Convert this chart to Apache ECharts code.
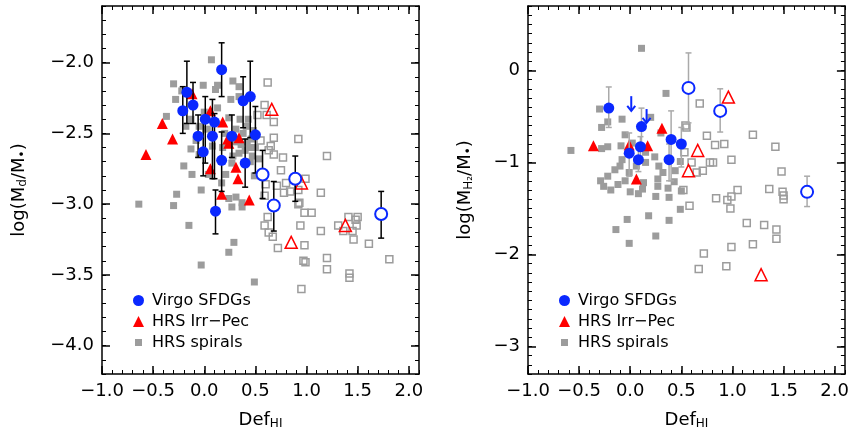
<!DOCTYPE html>
<html>
<head>
<meta charset="utf-8">
<script src="https://cdn.jsdelivr.net/npm/echarts@6/dist/echarts.min.js"></script>
<style>
html, body { margin: 0; padding: 0; background: #fff; }
#chart { width: 852px; height: 440px; }
</style>
</head>
<body>
<div id="chart"></div>
<script>
// ---- tick labels
var xTicks = [-1.0, -0.5, 0.0, 0.5, 1.0, 1.5, 2.0];
var dustTicks = [-4.0, -3.5, -3.0, -2.5, -2.0];
var gasTicks = [-3, -2, -1, 0];

// ---- left panel: log(Md/M*) vs DefHI
var dustVirgo = [[0.17,-2.05],[-0.17,-2.21],[-0.21,-2.34],[-0.11,-2.30],[0.01,-2.40],[0.10,-2.42],[-0.06,-2.52],[0.08,-2.52],
  [-0.01,-2.63],[0.27,-2.52],[0.17,-2.69],[0.38,-2.27],[0.45,-2.24],[0.50,-2.51],[0.40,-2.71],[0.11,-3.05]];
var dustVirgoOpen = [[0.57,-2.79],[0.68,-3.01],[0.89,-2.82],[1.73,-3.07]];
// x, top, bottom
var dustErr = [[0.17,-1.86,-2.24],[-0.17,-1.99,-2.43],[-0.21,-2.17,-2.50],[-0.11,-2.14,-2.43],[0.01,-2.24,-2.71],[0.10,-2.36,-2.82],
  [-0.06,-2.37,-2.67],[0.08,-2.26,-2.82],[-0.01,-2.41,-2.80],[0.27,-2.37,-2.67],[0.17,-2.49,-2.91],[0.38,-2.10,-2.46],
  [0.45,-1.99,-2.53],[0.50,-2.31,-2.78],[0.40,-2.54,-2.88],[0.11,-2.90,-3.21],[0.57,-2.62,-2.96],[0.68,-2.84,-3.19],
  [0.89,-2.66,-2.98],[1.73,-2.91,-3.24]];
var dustIrr = [[-0.57,-2.65],[-0.41,-2.43],[-0.31,-2.54],[-0.12,-2.22],[0.06,-2.34],[0.18,-2.42],[0.23,-2.54],[0.34,-2.53],
  [0.24,-2.57],[0.06,-2.75],[0.31,-2.74],[0.33,-2.82],[0.17,-2.93],[0.44,-2.97]];
var dustIrrOpen = [[0.66,-2.33],[0.95,-2.85],[0.85,-3.27],[1.38,-3.15]];
var dustSpiral = [[0.07,-1.98],[-0.30,-2.15],[-0.01,-2.16],[0.11,-2.19],[0.13,-2.16],[0.28,-2.13],[0.34,-2.17],[-0.28,-2.26],
  [-0.22,-2.20],[-0.37,-2.38],[0.13,-2.32],[0.26,-2.26],[0.34,-2.24],[-0.13,-2.40],[-0.05,-2.45],[0.03,-2.47],[0.24,-2.39],
  [0.31,-2.47],[0.41,-2.45],[0.46,-2.54],[0.44,-2.60],[0.34,-2.64],[0.28,-2.66],[0.47,-2.66],[-0.13,-2.61],[-0.05,-2.65],
  [0.08,-2.59],[-0.20,-2.73],[-0.12,-2.79],[0.04,-2.79],[0.21,-2.79],[0.27,-2.71],[0.49,-2.80],[-0.03,-2.90],[-0.27,-2.93],
  [-0.64,-3.00],[-0.30,-3.01],[0.24,-2.96],[0.31,-2.95],[0.37,-2.99],[0.17,-2.85],[-0.15,-3.15],[0.24,-3.34],[0.29,-3.27],
  [-0.03,-3.43],[0.49,-3.55],[0.27,-3.02],[0.37,-3.02],[0.54,-2.68],[0.38,-2.50],[0.42,-2.56],[0.36,-2.58],[0.45,-2.70],
  [0.40,-2.62],[0.48,-2.48],[0.30,-2.56],[0.20,-2.50],[0.18,-2.60],[-0.08,-2.55],[0.00,-2.35],[-0.18,-2.45],[0.35,-2.40],
  [0.43,-2.40],[0.50,-2.60]];
var dustSpiralOpen = [[0.62,-2.14],[0.59,-2.30],[0.61,-2.37],[0.52,-2.37],[0.68,-2.42],[0.68,-2.53],[0.65,-2.59],[0.92,-2.54],
  [0.68,-2.65],[0.77,-2.67],[0.63,-2.62],[1.20,-2.66],[0.75,-2.76],[0.60,-2.86],[0.71,-2.87],[0.80,-2.85],[0.78,-2.92],
  [0.84,-2.91],[0.99,-2.82],[1.14,-2.92],[0.92,-2.90],[0.59,-2.94],[0.93,-2.99],[0.98,-3.06],[1.05,-3.06],[0.62,-3.09],
  [1.41,-3.09],[1.50,-3.09],[0.59,-3.15],[0.63,-3.20],[0.67,-3.23],[0.72,-3.31],[0.94,-3.15],[0.92,-3.00],[1.14,-3.19],
  [0.98,-3.29],[0.99,-3.41],[0.95,-3.60],[1.20,-3.38],[1.20,-3.46],[1.31,-3.15],[1.36,-3.19],[1.49,-3.15],[1.45,-3.19],
  [1.46,-3.25],[1.42,-3.49],[1.42,-3.52],[1.61,-3.28],[1.81,-3.39],[1.48,-3.11],[0.97,-3.40],[0.55,-2.55]];

// ---- right panel: log(MH2/M*) vs DefHI
var gasVirgo = [[-0.21,-0.41],[0.11,-0.61],[0.10,-0.83],[-0.01,-0.90],[0.08,-0.97],[0.40,-0.75],[0.50,-0.80],[0.38,-0.97]];
var gasVirgoOpen = [[0.57,-0.19],[0.88,-0.44],[1.73,-1.32]];
var gasErr = [[-0.21,-0.18,-0.62],[0.11,-0.41,-0.85],[0.10,-0.72,-1.00],[-0.01,-0.68,-1.15],[0.08,-0.85,-1.10],
  [0.40,-0.44,-1.20],[0.50,-0.62,-1.05],[0.38,-0.80,-1.20],[0.57,0.19,-0.57],[0.88,-0.20,-0.67],[1.73,-1.15,-1.48]];
var gasLimits = [[0.01,-0.28,-0.44],[0.16,-0.42,-0.57]];
var gasIrr = [[-0.36,-0.82],[-0.01,-0.81],[0.17,-0.82],[0.31,-0.63],[0.06,-1.18]];
var gasIrrOpen = [[0.96,-0.29],[0.66,-0.87],[0.57,-1.09],[1.28,-2.22]];
var gasSpiral = [[0.11,0.24],[0.35,-0.25],[-0.30,-0.42],[-0.08,-0.53],[-0.22,-0.56],[-0.28,-0.62],[0.20,-0.51],[-0.05,-0.70],
  [-0.09,-0.82],[-0.22,-0.83],[-0.28,-0.85],[-0.58,-0.87],[0.02,-0.79],[0.30,-0.68],[0.24,-0.94],[0.15,-0.89],[0.28,-1.04],
  [-0.08,-0.97],[-0.10,-1.04],[-0.15,-1.08],[-0.01,-1.11],[0.15,-1.00],[0.06,-1.04],[-0.22,-1.15],[-0.29,-1.20],[-0.26,-1.26],
  [-0.19,-1.30],[-0.12,-1.24],[-0.05,-1.20],[0.00,-1.32],[0.08,-1.34],[0.12,-1.29],[0.13,-1.22],[0.27,-1.18],[0.32,-1.11],
  [0.27,-1.26],[0.25,-1.37],[0.38,-1.38],[0.49,-1.51],[0.49,-0.99],[-0.03,-1.62],[0.18,-1.58],[0.38,-1.63],[-0.14,-1.73],
  [-0.01,-1.88],[0.25,-1.80],[0.43,-1.21],[0.44,-1.09],[0.37,-1.28],[0.50,-1.31]];
var gasSpiralOpen = [[0.68,-0.36],[0.54,-0.60],[0.75,-0.71],[0.83,-0.81],[0.92,-0.80],[1.20,-0.70],[1.42,-0.83],[0.53,-0.89],
  [0.60,-1.00],[0.78,-1.00],[0.81,-1.00],[0.99,-0.97],[0.71,-1.09],[0.65,-1.11],[1.48,-1.10],[0.52,-1.30],[0.58,-1.47],
  [0.84,-1.39],[0.95,-1.41],[0.99,-1.37],[1.05,-1.30],[0.98,-1.50],[1.36,-1.29],[1.49,-1.32],[1.50,-1.40],[1.50,-1.36],
  [1.14,-1.66],[1.31,-1.68],[1.43,-1.73],[1.43,-1.83],[1.20,-1.89],[0.99,-1.92],[0.72,-1.99],[0.67,-2.16],[0.94,-2.13],
  [0.55,-0.62]];

var FONT = 'DejaVu Sans';
var BLUE = '#0a28ff', RED = '#ff0000', GRAY = '#9c9c9c';
var grids = [
  {left: 102, top: 6, width: 317, height: 368},
  {left: 528, top: 6, width: 317, height: 368}
];

function minus(s) { return String(s).replace('-', '\u2212'); }

// 4 axes per side: main (labels + major ticks) and a minor-tick overlay, for both sides
function buildAxes(dim, gi, min, max, ticks, fmt, name, nameGap) {
  var pos = dim === 'x' ? ['bottom', 'top'] : ['left', 'right'];
  var out = [];
  pos.forEach(function (p, k) {
    out.push({
      type: 'value', gridIndex: gi, position: p, min: min, max: max,
      name: k === 0 ? name : '', nameLocation: 'middle', nameGap: nameGap, nameRotate: dim === 'y' ? 90 : 0,
      nameTextStyle: {fontFamily: FONT, fontSize: 18, color: '#000',
        rich: {sub: {fontFamily: FONT, fontSize: 12, color: '#000', padding: [8, 0, 0, 0]}}},
      axisLine: {show: true, onZero: false, lineStyle: {color: '#000', width: 1.5}},
      axisTick: {show: true, inside: true, length: 8, customValues: ticks, lineStyle: {color: '#000', width: 1.5}},
      axisLabel: {show: k === 0, customValues: ticks, margin: 8, formatter: fmt,
        fontFamily: FONT, fontSize: 18, color: '#000'},
      splitLine: {show: false}
    });
    out.push({
      type: 'value', gridIndex: gi, position: p, min: min, max: max, interval: 0.1,
      axisLine: {show: false, onZero: false},
      axisTick: {show: true, inside: true, length: 4, lineStyle: {color: '#000', width: 1}},
      axisLabel: {show: false},
      splitLine: {show: false}
    });
  });
  return out;
}

function fmt1(v) { return minus(v.toFixed(1)); }
function fmt0(v) { return minus(Math.round(v).toString()); }

var xAxis = [].concat(
  buildAxes('x', 0, -1.0, 2.1, xTicks, fmt1, 'Def{sub|HI}', 36),
  buildAxes('x', 1, -1.0, 2.1, xTicks, fmt1, 'Def{sub|HI}', 36)
);
var yAxis = [].concat(
  buildAxes('y', 0, -4.2, -1.6, dustTicks, fmt1, 'log(M{sub|d}/M{sub|\u2022})', 73),
  buildAxes('y', 1, -3.3, 0.7, gasTicks, fmt0, 'log(M{sub|H\u2082}/M{sub|\u2022})', 53)
);

function errRender(color) {
  return function (params, api) {
    var x = api.value(0);
    var a = api.coord([x, api.value(1)]);
    var b = api.coord([x, api.value(2)]);
    var w = 3;
    var st = {stroke: color, lineWidth: 1.5};
    return {type: 'group', children: [
      {type: 'line', shape: {x1: a[0], y1: a[1], x2: b[0], y2: b[1]}, style: st},
      {type: 'line', shape: {x1: a[0] - w, y1: a[1], x2: a[0] + w, y2: a[1]}, style: st},
      {type: 'line', shape: {x1: b[0] - w, y1: b[1], x2: b[0] + w, y2: b[1]}, style: st}
    ]};
  };
}

function arrowRender(params, api) {
  var x = api.value(0);
  var a = api.coord([x, api.value(1)]);
  var b = api.coord([x, api.value(2)]);
  var st = {stroke: BLUE, lineWidth: 2, fill: null};
  return {type: 'group', children: [
    {type: 'line', shape: {x1: a[0], y1: a[1], x2: b[0], y2: b[1]}, style: st},
    {type: 'polyline', shape: {points: [[b[0] - 4, b[1] - 5], [b[0], b[1]], [b[0] + 4, b[1] - 5]]}, style: st}
  ]};
}

function panelSeries(gi, d) {
  var xi = gi * 4, yi = gi * 4;
  var s = [
    {name: 'HRS spirals', type: 'scatter', xAxisIndex: xi, yAxisIndex: yi, data: d.spiral,
      symbol: 'rect', symbolSize: 7, itemStyle: {color: GRAY, opacity: 1}, z: 2},
    {name: 'spirals open', type: 'scatter', xAxisIndex: xi, yAxisIndex: yi, data: d.spiralOpen,
      symbol: 'rect', symbolSize: 7, itemStyle: {color: 'rgba(255,255,255,0)', borderColor: GRAY, borderWidth: 1.5, opacity: 1}, z: 2},
    {name: 'HRS Irr\u2212Pec', type: 'scatter', xAxisIndex: xi, yAxisIndex: yi, data: d.irr,
      symbol: 'triangle', symbolSize: 11, itemStyle: {color: RED, opacity: 1}, z: 3},
    {name: 'Irr open', type: 'scatter', xAxisIndex: xi, yAxisIndex: yi, data: d.irrOpen,
      symbol: 'triangle', symbolSize: 12, itemStyle: {color: 'rgba(255,255,255,0)', borderColor: RED, borderWidth: 1.5, opacity: 1}, z: 3},
    {name: 'err', type: 'custom', xAxisIndex: xi, yAxisIndex: yi, data: d.err, renderItem: errRender(d.errColor),
      encode: {x: 0, y: [1, 2]}, z: 4, silent: true},
    {name: 'Virgo SFDGs', type: 'scatter', xAxisIndex: xi, yAxisIndex: yi, data: d.virgo,
      symbol: 'circle', symbolSize: 11, itemStyle: {color: BLUE, opacity: 1}, z: 5},
    {name: 'Virgo open', type: 'scatter', xAxisIndex: xi, yAxisIndex: yi, data: d.virgoOpen,
      symbol: 'circle', symbolSize: 12, itemStyle: {color: '#fff', borderColor: BLUE, borderWidth: 2, opacity: 1}, z: 5}
  ];
  if (d.limits) {
    s.push({name: 'limits', type: 'custom', xAxisIndex: xi, yAxisIndex: yi, data: d.limits, renderItem: arrowRender,
      encode: {x: 0, y: [1, 2]}, z: 5, silent: true});
  }
  return s;
}

var squareIcon = 'path://M0,0M2,2h7v7h-7zM11,11';
function legendAt(left) {
  return {
    left: left, top: 287, orient: 'vertical', itemWidth: 11, itemHeight: 11, itemGap: 4,
    selectedMode: false,
    textStyle: {fontFamily: FONT, fontSize: 16, color: '#000', padding: [0, 0, 0, 3], lineHeight: 17},
    data: [
      {name: 'Virgo SFDGs', icon: 'circle'},
      {name: 'HRS Irr\u2212Pec', icon: 'triangle'},
      {name: 'HRS spirals', icon: squareIcon}
    ]
  };
}

var chart = echarts.init(document.getElementById('chart'), null, {renderer: 'canvas'});
chart.setOption({
  animation: false,
  backgroundColor: '#fff',
  grid: grids,
  xAxis: xAxis,
  yAxis: yAxis,
  legend: [legendAt(128), legendAt(554)],
  series: [].concat(
    panelSeries(0, {spiral: dustSpiral, spiralOpen: dustSpiralOpen, irr: dustIrr, irrOpen: dustIrrOpen,
      err: dustErr, errColor: '#000', virgo: dustVirgo, virgoOpen: dustVirgoOpen}),
    panelSeries(1, {spiral: gasSpiral, spiralOpen: gasSpiralOpen, irr: gasIrr, irrOpen: gasIrrOpen,
      err: gasErr, errColor: '#aaaaaa', virgo: gasVirgo, virgoOpen: gasVirgoOpen, limits: gasLimits})
  )
});
</script>
</body>
</html>
